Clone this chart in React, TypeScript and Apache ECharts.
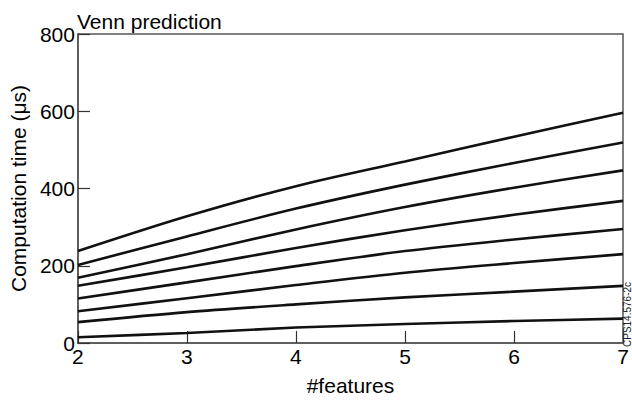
import React, { useEffect, useRef } from "react";
import * as echarts from "echarts";

const features = [2, 3, 4, 5, 6, 7];
const line1 = [238, 328, 406, 470, 534, 596];
const line2 = [202, 276, 348, 410, 466, 519];
const line3 = [169, 230, 294, 352, 402, 447];
const line4 = [148, 196, 246, 292, 332, 368];
const line5 = [115, 157, 199, 238, 268, 295];
const line6 = [82, 116, 150, 182, 207, 230];
const line7 = [54, 80, 100, 118, 133, 148];
const line8 = [15, 26, 40, 49, 57, 63];
const allLines = [line1, line2, line3, line4, line5, line6, line7, line8];
const yTicks = [0, 200, 400, 600, 800];

const FONT = "'Liberation Sans', Arial, Helvetica, sans-serif";

export default function App() {
  const ref = useRef<HTMLDivElement>(null);
  useEffect(() => {
    if (!ref.current) return;
    const chart = echarts.init(ref.current, undefined, { renderer: "svg" });
    chart.setOption({
      animation: false,
      backgroundColor: "#ffffff",
      textStyle: { fontFamily: FONT },
      title: {
        text: "Venn prediction",
        left: 77,
        top: 11,
        padding: 0,
        textStyle: { fontSize: 21, fontWeight: "normal", color: "#000", fontFamily: FONT },
      },
      grid: {
        left: 77,
        right: 9,
        top: 34,
        bottom: 54,
        show: true,
        borderColor: "#555",
        borderWidth: 1.5,
        backgroundColor: "transparent",
      },
      xAxis: {
        type: "value",
        min: 2,
        max: 7,
        interval: 1,
        name: "#features",
        nameLocation: "middle",
        nameGap: 32,
        nameTextStyle: { fontSize: 21, color: "#000", fontFamily: FONT },
        axisLine: { show: true, lineStyle: { color: "#555", width: 1.5 } },
        axisTick: { show: true, inside: true, length: 12, lineStyle: { color: "#333", width: 1.2 } },
        axisLabel: { fontSize: 21, color: "#000", margin: 3, fontFamily: FONT },
        splitLine: { show: false },
      },
      yAxis: {
        type: "value",
        min: 0,
        max: 800,
        interval: 200,
        name: "Computation time (\u03bcs)",
        nameLocation: "middle",
        nameGap: 45,
        nameTextStyle: { fontSize: 21, color: "#000", fontFamily: FONT },
        axisLine: { show: true, lineStyle: { color: "#555", width: 1.5 } },
        axisTick: { show: true, inside: true, length: 12, lineStyle: { color: "#333", width: 1.2 } },
        axisLabel: {
          fontSize: 21,
          color: "#000",
          margin: 3,
          fontFamily: FONT,
          formatter: (v: number) => (yTicks.includes(v) ? String(v) : ""),
        },
        splitLine: { show: false },
      },
      graphic: [
        {
          type: "text",
          x: 627,
          y: 347,
          rotation: Math.PI / 2,
          style: {
            text: "CPS14.576-2c",
            fontSize: 10,
            fill: "#222",
            fontFamily: FONT,
            align: "left",
            verticalAlign: "middle",
          },
        },
      ],
      series: allLines.map((vals, i) => ({
        type: "line",
        name: "line" + (i + 1),
        data: features.map((f, j) => [f, vals[j]]),
        showSymbol: false,
        smooth: 0.3,
        lineStyle: { color: "#111", width: 2.6 },
      })),
    });
    return () => chart.dispose();
  }, []);
  return (
    <div
      ref={ref}
      style={{ position: "fixed", left: 0, top: 0, width: 632, height: 401, background: "#fff" }}
    />
  );
}
